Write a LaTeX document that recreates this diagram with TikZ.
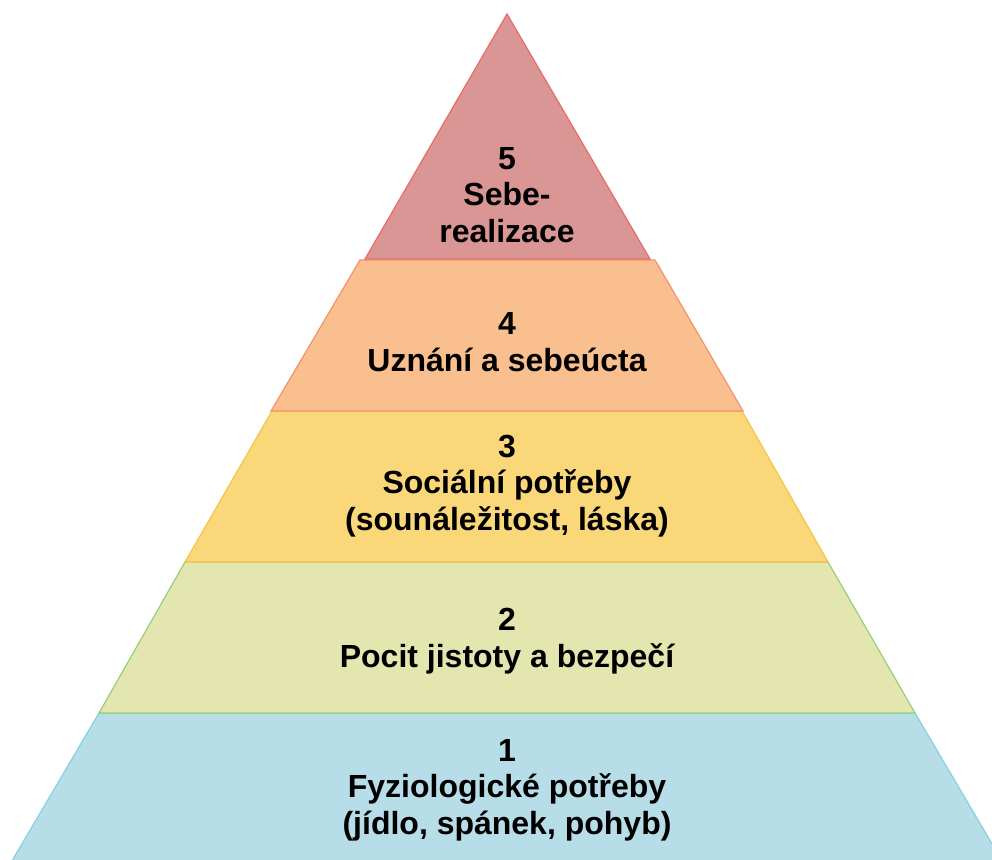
\documentclass[tikz,border=0pt]{standalone}
\usepackage{fontspec}
\setmainfont{Liberation Sans}
\definecolor{f5}{HTML}{D99694}\definecolor{s5}{HTML}{EA6B66}
\definecolor{f4}{HTML}{F9BF8F}\definecolor{s4}{HTML}{F2936B}
\definecolor{f3}{HTML}{FAD87A}\definecolor{s3}{HTML}{F5C44A}
\definecolor{f2}{HTML}{E3E6AE}\definecolor{s2}{HTML}{97D077}
\definecolor{f1}{HTML}{B7DDE8}\definecolor{s1}{HTML}{82D3E0}
\begin{document}
\begin{tikzpicture}[x=1pt,y=-1pt,
  band/.style={line width=1.2pt,line join=miter},
  lbl/.style={font=\fontsize{32}{36.5}\selectfont\bfseries,align=center,inner sep=0pt,anchor=base,text=black}]
\useasboundingbox (0,0) rectangle (992,859);
\clip (0,0) rectangle (992,859);
\draw[band,fill=f1,draw=s1] (99,713) -- (915,713) -- (1008,871) -- (6,871) -- cycle;
\draw[band,fill=f2,draw=s2] (185,562) -- (828,562) -- (915,713) -- (99,713) -- cycle;
\draw[band,fill=f3,draw=s3] (272,411) -- (742,411) -- (828,562) -- (185,562) -- cycle;
\draw[band,fill=f4,draw=s4] (360,260) -- (655,260) -- (743,411) -- (271,411) -- cycle;
\draw[band,fill=f5,draw=s5] (507,14) -- (650,259) -- (365,259) -- cycle;
\node[lbl] (t5) at (507,242) {5\\Sebe-\\realizace};
\node[lbl] (t4) at (507,371) {4\\Uznání a sebeúcta};
\node[lbl] (t3) at (507,530) {3\\Sociální potřeby\\(sounáležitost, láska)};
\node[lbl] (t2) at (507,667) {2\\Pocit jistoty a bezpečí};
\node[lbl] (t1) at (507,834) {1\\Fyziologické potřeby\\(jídlo, spánek, pohyb)};
\end{tikzpicture}
\end{document}
